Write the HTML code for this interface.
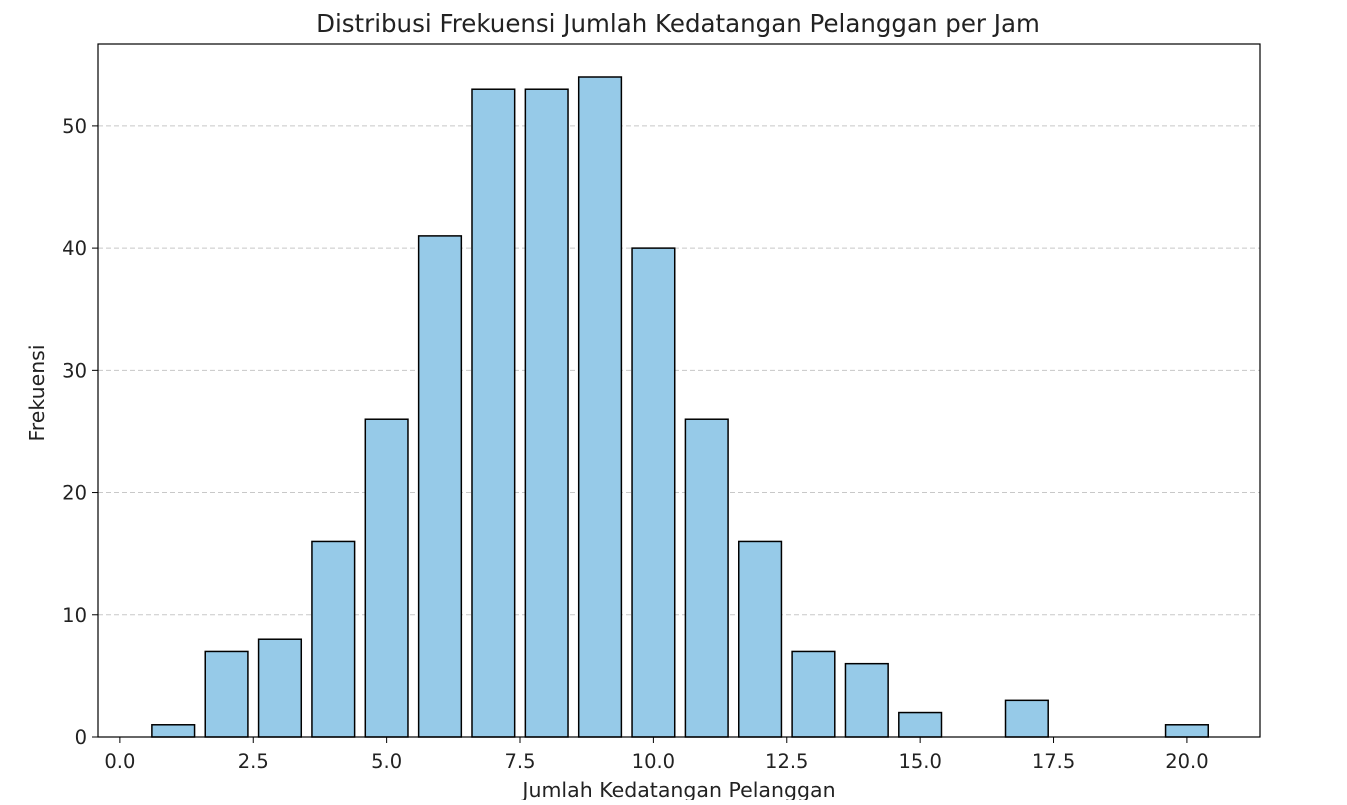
<!DOCTYPE html>
<html><head><meta charset="utf-8"><style>
body{margin:0;background:#fff;}
svg text{font-family:"DejaVu Sans","Liberation Sans",sans-serif;fill:#222;}
</style></head><body>
<svg id="chart" width="1347" height="800" xmlns="http://www.w3.org/2000/svg">
<text x="678" y="32" font-size="24.5" text-anchor="middle">Distribusi Frekuensi Jumlah Kedatangan Pelanggan per Jam</text>
<g id="grid"></g><g id="bars"></g><g id="axes"></g>
<text x="679" y="797" font-size="20.5" text-anchor="middle">Jumlah Kedatangan Pelanggan</text>
<text transform="translate(44,393) rotate(-90)" font-size="20.5" text-anchor="middle">Frekuensi</text>
</svg>
<script>
const categories=[1,2,3,4,5,6,7,8,9,10,11,12,13,14,15,16,17,18,19,20];
const frequencies=[1,7,8,16,26,41,53,53,54,40,26,16,7,6,2,0,3,0,0,1];
const xTicks=[0,2.5,5,7.5,10,12.5,15,17.5,20];
const yTicks=[0,10,20,30,40,50];
const L=98,R=1260,T=44,B=737;
const xmin=-0.41,xmax=21.37,ymax=56.7;
const X=v=>L+(v-xmin)/(xmax-xmin)*(R-L);
const Y=v=>B-v/ymax*(B-T);
const NS="http://www.w3.org/2000/svg";
function mk(tag,attrs,parent){const e=document.createElementNS(NS,tag);for(const k in attrs)e.setAttribute(k,attrs[k]);parent.appendChild(e);return e;}
const grid=document.getElementById('grid'),bars=document.getElementById('bars'),axes=document.getElementById('axes');
yTicks.forEach(t=>{if(t===0)return;const l=mk('line',{x1:L,x2:R,y1:Y(t),y2:Y(t),stroke:'#c8c8c8','stroke-dasharray':'5,3','stroke-width':1},grid);

});
categories.forEach((c,i)=>{const x0=X(c-0.4),x1=X(c+0.4);const r=mk('rect',{x:x0,y:Y(frequencies[i]),width:x1-x0,height:B-Y(frequencies[i]),fill:'#96cae8',stroke:'#000','stroke-width':1.5},bars);

});
const f=mk('rect',{x:L,y:T,width:R-L,height:B-T,fill:'none',stroke:'#000','stroke-width':1.2},axes);


xTicks.forEach(t=>{mk('line',{x1:X(t),x2:X(t),y1:B,y2:B+6,stroke:'#000'},axes);
const tx=mk('text',{x:X(t),y:B+31,'font-size':19.5,'text-anchor':'middle'},axes);tx.textContent=t.toFixed(1);

});
yTicks.forEach(t=>{mk('line',{x1:L-6,x2:L,y1:Y(t),y2:Y(t),stroke:'#000'},axes);
const tx=mk('text',{x:L-11,y:Y(t)+7,'font-size':19.5,'text-anchor':'end'},axes);tx.textContent=t;

});
</script>
</body></html>
